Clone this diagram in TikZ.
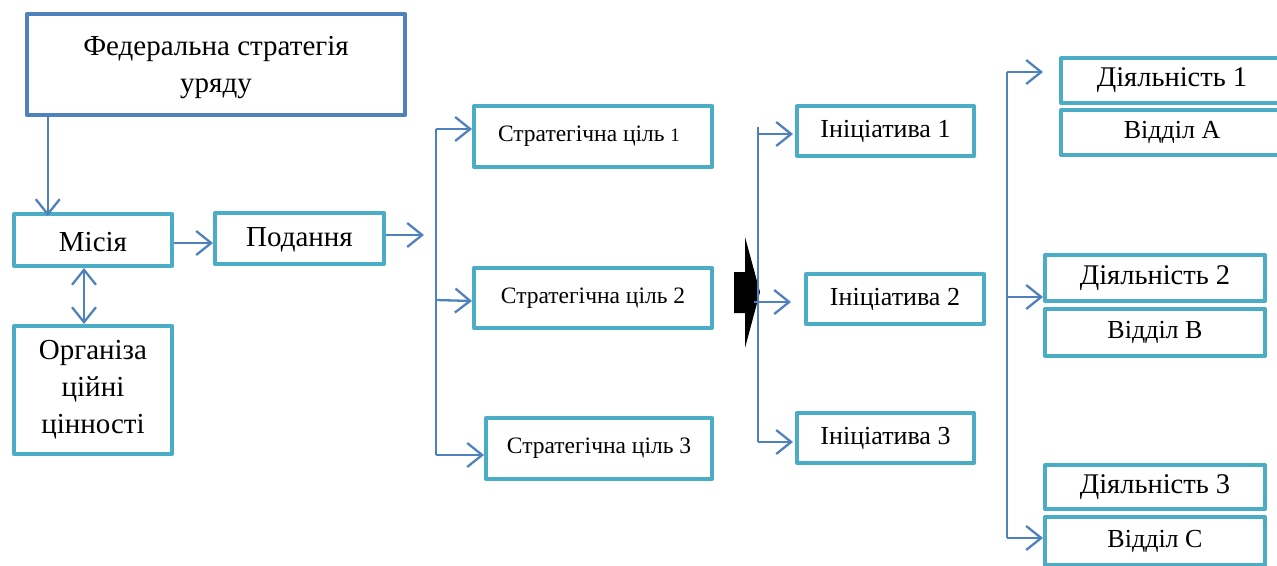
\documentclass[tikz,border=0pt]{standalone}
\usepackage{fontspec}
\setmainfont{Liberation Serif}
\usetikzlibrary{arrows.meta}
\definecolor{teal}{RGB}{75,172,198}
\definecolor{arblue}{RGB}{79,129,189}
\tikzset{
  box/.style={draw=teal, line width=4pt, line join=round, fill=white, inner sep=0pt, align=center},
  fedbox/.style={box, draw=arblue, line width=4.5pt},
  big/.style={font=\fontsize{29}{37}\selectfont},
  act/.style={font=\fontsize{28.5}{32}\selectfont},
  mid/.style={font=\fontsize{26}{30}\selectfont},
  small/.style={font=\fontsize{23.5}{26}\selectfont},
  arr/.style={draw=arblue, line width=2.3pt, -{Straight Barb[length=15pt,width=24pt]}},
  darr/.style={draw=arblue, line width=2.3pt, {Straight Barb[length=15pt,width=24pt]}-{Straight Barb[length=15pt,width=24pt]}},
  ln/.style={draw=arblue, line width=2.3pt},
}
\begin{document}
\begin{tikzpicture}[x=1pt,y=-1pt]
\useasboundingbox (0,0) rectangle (1277,565);
\clip (0,0) rectangle (1277,565);
% nodes
\node[fedbox,big,minimum width=378pt,minimum height=101pt] (fed) at (216,64.5) {\rule{0pt}{26pt}Федеральна стратегія\\уряду};
\node[box,big,minimum width=158pt,minimum height=52pt] (mis) at (93,240) {\rule{0pt}{23pt}Місія};
\node[box,big,minimum width=169pt,minimum height=51pt] (pod) at (299.5,238.5) {\rule{0pt}{22pt}Подання};
\node[box,big,minimum width=158pt,minimum height=128pt] (org) at (93,390) {Організа\\ційні\\цінності};
\node[box,small,minimum width=238pt,minimum height=61pt] (g1) at (593,136.5) {Стратегічна ціль {\fontsize{19}{19}\selectfont 1}\hspace*{8pt}};
\node[box,small,minimum width=238pt,minimum height=60pt] (g2) at (593,298) {Стратегічна ціль 2};
\node[box,small,minimum width=226pt,minimum height=61pt] (g3) at (599,448.5) {Стратегічна ціль 3};
\node[box,mid,minimum width=177pt,minimum height=50pt] (i1) at (885.5,131) {Ініціатива 1};
\node[box,mid,minimum width=178pt,minimum height=50pt] (i2) at (895,299) {Ініціатива 2};
\node[box,mid,minimum width=177pt,minimum height=50pt] (i3) at (885.5,438) {Ініціатива 3};
\node[box,act,minimum width=222pt,minimum height=45pt] (d1) at (1172,80.5) {Діяльність 1};
\node[box,mid,minimum width=222pt,minimum height=45pt] (va) at (1172,132.5) {Відділ А};
\node[box,act,minimum width=220pt,minimum height=46pt] (d2) at (1155,278) {Діяльність 2};
\node[box,mid,minimum width=220pt,minimum height=47pt] (vb) at (1155,332.5) {Відділ В};
\node[box,act,minimum width=220pt,minimum height=44pt] (d3) at (1155,487) {Діяльність 3};
\node[box,mid,minimum width=220pt,minimum height=48pt] (vc) at (1155,541) {Відділ С};
% left connectors
\draw[arr] ([xshift=23pt]fed.south west) -- ([xshift=23pt,yshift=-4pt]fed.south west |- mis.north);
\draw[arr] ([yshift=-3pt]mis.east) -- ([yshift=-3pt]mis.east -| pod.west);
\draw[darr] ([xshift=-9pt]mis.south) -- ([xshift=-9pt]org.north);
\coordinate (pe) at (424,235);
\draw[arr] (pod.east |- pe) -- (pe);
% strategic bracket
\coordinate (b1) at (436,129);
\coordinate (b2) at (436,300);
\coordinate (b3) at (436,455);
\draw[ln] (b1) -- (b3);
\draw[arr] (b1) -- (b1 -| g1.west);
\draw[arr] (b2) -- ([yshift=-1pt]b2 -| g2.west);
\draw[arr] (b3) -- (b3 -| g3.west);
% black arrow
\fill[black] (734,272) -- (745,272) -- (745,237) -- (760,292) -- (745,348) -- (745,313) -- (734,313) -- cycle;
% initiative bracket
\coordinate (c0) at (758,127);
\coordinate (c1) at (758,134);
\coordinate (c2) at (754,302);
\coordinate (c3) at (758,442);
\draw[ln] (c0) -- (c3);
\draw[arr] (c1) -- ([xshift=-2pt]c1 -| i1.west);
\draw[arr] (c2) -- ([xshift=-13pt]c2 -| i2.west);
\draw[arr] (c3) -- ([xshift=-2pt]c3 -| i3.west);
% activity bracket
\coordinate (e1) at (1007,72);
\coordinate (e2) at (1007,297);
\coordinate (e3) at (1007,538);
\draw[ln] (e1) -- (e3);
\draw[arr] (e1) -- ([xshift=-16pt]e1 -| d1.west);
\draw[arr] (e2) -- (e2 -| d2.west);
\draw[arr] (e3) -- (e3 -| vc.west);
\end{tikzpicture}
\end{document}
